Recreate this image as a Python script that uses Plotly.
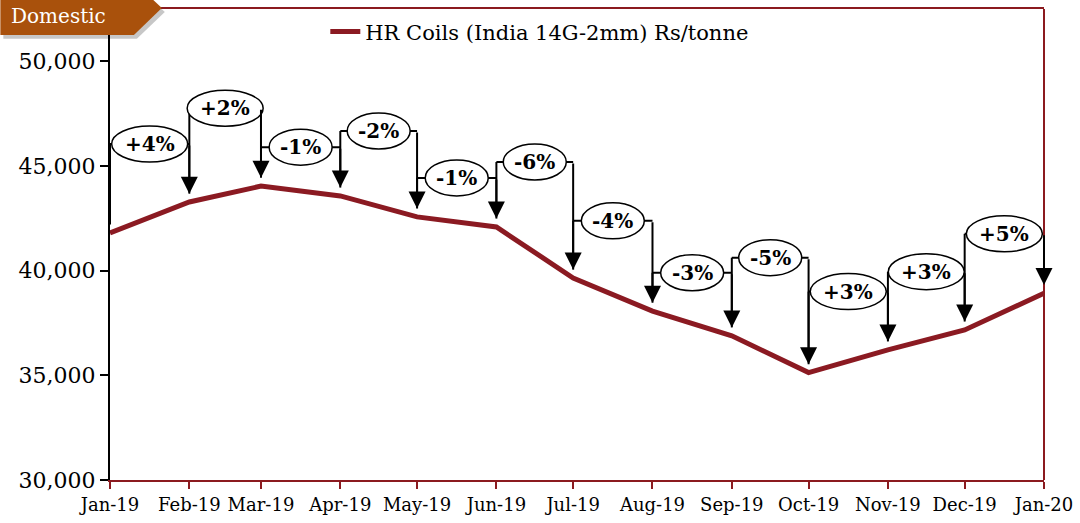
import plotly.graph_objects as go
import pandas as pd

# ---- data ----
months = ["2019-01-01", "2019-02-01", "2019-03-01", "2019-04-01", "2019-05-01", "2019-06-01",
          "2019-07-01", "2019-08-01", "2019-09-01", "2019-10-01", "2019-11-01", "2019-12-01",
          "2020-01-01"]
prices = [41800, 43280, 44040, 43570, 42570, 42090, 39650, 38070, 36890, 35130, 36220, 37170, 38920]
change_labels = ["+4%", "+2%", "-1%", "-2%", "-1%", "-6%", "-4%", "-3%", "-5%", "+3%", "+3%", "+5%"]
series_name = "HR Coils (India 14G-2mm) Rs/tonne"
y_ticks = [30000, 35000, 40000, 45000, 50000]

# ---- layout helpers (positions of the callout boxes, not data) ----
label_levels = [46050, 47760, 45900, 46670, 44430, 45190, 42380, 39900, 40620, 39000, 39950, 41760]
ARROW_GAP = 400

LINE_RED = "#8B1A22"
BORDER_RED = "#8B1A1F"
TAB_COLOR = "#A9510C"
FONT = "DejaVu Serif"

W, H = 1080, 523
L, R, T, B = 110, 1047, 7, 480


def px(x):
    return (x - L) / (R - L)


def py(y):
    return (B - y) / (B - T)


dates = pd.to_datetime(months)

fig = go.Figure()
fig.add_trace(go.Scatter(
    x=months, y=prices, mode="lines", name=series_name,
    line=dict(color=LINE_RED, width=5), showlegend=True,
))

shapes = []
annotations = []

# connectors
for i, lab in enumerate(change_labels):
    x0, x1 = months[i], months[i + 1]
    lvl = label_levels[i]
    shapes.append(dict(type="line", xref="x", yref="y", x0=x0, x1=x0,
                       y0=prices[i] + ARROW_GAP, y1=lvl,
                       line=dict(color="black", width=2)))
    shapes.append(dict(type="line", xref="x", yref="y", x0=x0, x1=x1, y0=lvl, y1=lvl,
                       line=dict(color="black", width=2)))
    annotations.append(dict(x=x1, y=prices[i + 1] + ARROW_GAP, ax=x1, ay=lvl,
                            xref="x", yref="y", axref="x", ayref="y",
                            text="", showarrow=True, arrowhead=2, arrowsize=1.7,
                            arrowwidth=2, arrowcolor="black", standoff=0, startstandoff=0))

# ellipses + labels
for i, lab in enumerate(change_labels):
    mid = dates[i] + (dates[i + 1] - dates[i]) / 2
    mid_s = mid.strftime("%Y-%m-%d %H:%M:%S")
    w = 76 if lab.startswith("+") else 63
    h = 36
    shapes.append(dict(type="circle", xref="x", yref="y",
                       xsizemode="pixel", ysizemode="pixel",
                       xanchor=mid_s, yanchor=label_levels[i],
                       x0=-w / 2, x1=w / 2, y0=-h / 2, y1=h / 2,
                       fillcolor="white", line=dict(color="black", width=1.5)))
    annotations.append(dict(x=mid_s, y=label_levels[i], xref="x", yref="y",
                            text="<b>%s</b>" % lab, showarrow=False,
                            font=dict(family=FONT, size=20, color="black")))

# right border
shapes.append(dict(type="line", xref="paper", yref="paper", x0=1, x1=1, y0=0, y1=1,
                   line=dict(color=BORDER_RED, width=2)))

# "Domestic" tab (shadow + body)
def path_from(points, dx=0, dy=0):
    s = "M %f,%f " % (px(points[0][0] + dx), py(points[0][1] + dy))
    for (a, b) in points[1:]:
        s += "L %f,%f " % (px(a + dx), py(b + dy))
    return s + "Z"

tab_pts = [(0, -10), (145, -10), (162, 6), (134, 33), (0, 33)]
shapes.append(dict(type="path", xref="paper", yref="paper", path=path_from(tab_pts, 3, 4),
                   fillcolor="rgba(0,0,0,0.22)", line=dict(width=0)))
shapes.append(dict(type="path", xref="paper", yref="paper", path=path_from(tab_pts),
                   fillcolor=TAB_COLOR, line=dict(width=0)))
annotations.append(dict(x=px(9), y=py(14), xref="paper", yref="paper", xanchor="left",
                        yanchor="middle", text="Domestic", showarrow=False,
                        font=dict(family=FONT, size=20, color="white")))

fig.update_layout(
    width=W, height=H,
    margin=dict(l=L, r=W - R, t=T, b=H - B, pad=0),
    paper_bgcolor="white", plot_bgcolor="white",
    font=dict(family=FONT, color="black"),
    shapes=shapes, annotations=annotations,
    legend=dict(x=px(326), y=py(30), xanchor="left", yanchor="middle",
                bgcolor="rgba(0,0,0,0)", font=dict(family=FONT, size=21, color="black")),
    xaxis=dict(type="date", range=[months[0], months[-1]], tickmode="array",
               tickvals=months, ticktext=[d.strftime("%b-%y") for d in dates],
               showgrid=False, zeroline=False, showline=True, linecolor=BORDER_RED,
               linewidth=2, mirror=True, ticks="outside", ticklen=7, tickcolor=BORDER_RED,
               tickwidth=2, tickfont=dict(family=FONT, size=18, color="black")),
    yaxis=dict(range=[30000, 52500], tickmode="array", tickvals=y_ticks,
               ticktext=[f"{v:,}" for v in y_ticks], showgrid=False, zeroline=False,
               showline=True, linecolor="black", linewidth=2, ticks="outside", ticklen=8,
               tickcolor="black", tickwidth=2,
               tickfont=dict(family=FONT, size=22, color="black")),
)

fig.write_html("out.html", config={"displayModeBar": False},
               post_script="document.body.style.margin='0';document.body.style.overflow='hidden';")
